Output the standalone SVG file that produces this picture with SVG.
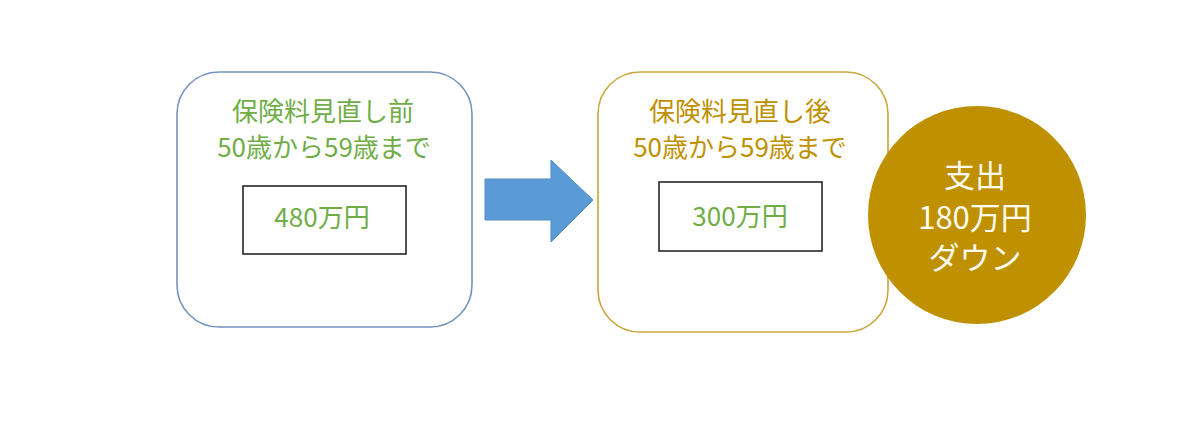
<svg xmlns="http://www.w3.org/2000/svg" width="1200" height="423" viewBox="0 0 1200 423">
<style>
.t{font-family:"Noto Sans CJK JP","Noto Sans",sans-serif;text-anchor:middle}
.g{fill:#70ad47}
.y{fill:#bf9000}
.w{fill:#fffbf0}
.inner{fill:#fff;stroke:#262626;stroke-width:1.6}
</style>
<rect width="1200" height="423" fill="#fff"/>
<g id="before">
<rect x="177" y="72" width="295" height="255" rx="42" fill="#fff" stroke="#7393c0" stroke-width="1.6"/>
<text class="t g" x="323" y="121" font-size="26">保険料見直し前</text>
<text class="t g" x="324" y="157" font-size="26">50歳から59歳まで</text>
<rect class="inner" x="243" y="186" width="163" height="68"/>
<text class="t g" x="322" y="227" font-size="26">480万円</text>
</g>
<g id="connectors">
<polygon points="485,179 551,179 551,160 593,200 551,242 551,220 485,220" fill="#5b9bd5" stroke="#4f8ccb" stroke-width="1"/>
</g>
<g id="after">
<rect x="598" y="72" width="290" height="260" rx="42" fill="#fff" stroke="#c9a73e" stroke-width="1.6"/>
<text class="t y" x="740" y="121" font-size="26">保険料見直し後</text>
<text class="t y" x="740" y="157" font-size="26">50歳から59歳まで</text>
<rect class="inner" x="659" y="182" width="163" height="69"/>
<text class="t g" x="740" y="226" font-size="26">300万円</text>
</g>
<g id="down">
<circle cx="977" cy="215" r="109" fill="#bf9000"/>
<text class="t w" x="975" y="187" font-size="31">支出</text>
<text class="t w" x="975" y="229" font-size="31">180万円</text>
<text class="t w" x="975" y="269" font-size="31">ダウン</text>
</g>
</svg>
